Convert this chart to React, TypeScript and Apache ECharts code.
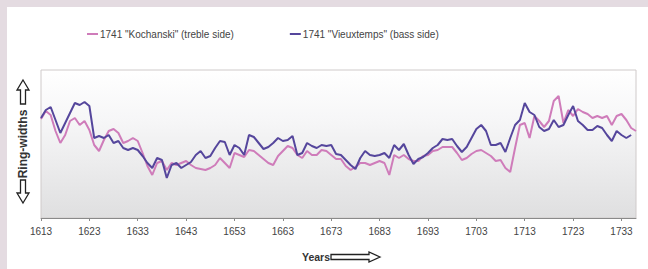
import React, { useEffect, useRef } from "react";
import * as echarts from "echarts";

const firstYear = 1613;
const lastYear = 1736;
const years: string[] = [];
for (let y = firstYear; y <= lastYear; y++) years.push(String(y));

const seriesNames = ['1741 "Kochanski" (treble side)', '1741 "Vieuxtemps" (bass side)'];

// Kochanski (treble side), relative ring-width index, 1613..1736
const kochanski: (number | null)[] = [
  99, 107, 103, 87, 75, 83, 97, 100, 93, 97, 88, 73, 67, 78, 87, 89, 85, 75, 77, 80,
  77, 65, 52, 43, 55, 57, 48, 55, 53, 55, 57, 53, 50, 49, 48, 50, 53, 60, 55, 50,
  65, 63, 61, 68, 67, 63, 59, 55, 53, 62, 67, 72, 70, 63, 60, 67, 63, 63, 68, 67,
  63, 59, 59, 52, 48, 51, 55, 55, 53, 55, 57, 55, 43, 63, 60, 63, 59, 57, 57, 62,
  63, 67, 68, 71, 71, 71, 65, 58, 60, 64, 67, 68, 65, 62, 57, 58, 50, 46, 70, 93,
  95, 80, 102, 97, 91, 97, 117, 122, 95, 108, 102, 109, 106, 104, 100, 102, 100, 102, 93, 102,
  104, 98, 90, 87,
];

// Vieuxtemps (bass side), relative ring-width index, 1613..1735
const vieuxtemps: (number | null)[] = [
  100, 108, 111, 98, 85, 95, 105, 115, 113, 116, 112, 80, 82, 80, 83, 75, 77, 70, 68, 70,
  68, 62, 55, 50, 60, 58, 40, 53, 55, 50, 53, 56, 63, 67, 60, 62, 70, 77, 76, 63,
  73, 70, 63, 83, 81, 75, 69, 71, 75, 80, 77, 78, 82, 63, 65, 75, 72, 70, 73, 72,
  73, 64, 63, 58, 53, 49, 60, 67, 63, 62, 63, 65, 60, 73, 68, 74, 63, 54, 59, 61,
  65, 70, 73, 79, 78, 79, 72, 66, 71, 80, 89, 93, 87, 73, 73, 75, 66, 80, 93, 98,
  115, 106, 103, 91, 87, 89, 98, 91, 93, 103, 112, 97, 93, 88, 88, 92, 90, 83, 77, 87,
  83, 80, 83, null,
];

const pink = "#cf7cba";
const blue = "#55469c";

export default function App() {
  const ref = useRef<HTMLDivElement>(null);
  useEffect(() => {
    if (!ref.current) return;
    const chart = echarts.init(ref.current, null, { renderer: "svg" });
    const upArrow = [
      [23, 80], [29, 90], [25.5, 90], [25.5, 104], [20.5, 104], [20.5, 90], [17, 90],
    ];
    const downArrow = [
      [23, 203], [29, 193], [25.5, 193], [25.5, 180], [20.5, 180], [20.5, 193], [17, 193],
    ];
    const rightArrow = [
      [380, 257], [369, 252], [369, 254.5], [331, 254.5], [331, 259.5], [369, 259.5], [369, 262],
    ];
    chart.setOption({
      animation: false,
      backgroundColor: "transparent",
      textStyle: { fontFamily: "Liberation Sans, Arial, sans-serif" },
      legend: {
        left: 82,
        top: 24,
        icon: "rect",
        itemWidth: 11,
        itemHeight: 2,
        itemGap: 56,
        textStyle: { fontSize: 10, color: "#444", padding: [0, 0, 0, -3] },
        data: seriesNames,
      },
      grid: {
        left: 41,
        top: 70,
        right: 12,
        bottom: 51,
        show: true,
        borderColor: "#cfcaca",
        borderWidth: 1,
        backgroundColor: new echarts.graphic.LinearGradient(0, 0, 0, 1, [
          { offset: 0, color: "#ffffff" },
          { offset: 0.35, color: "#f6f6f7" },
          { offset: 1, color: "#dfdfe0" },
        ]),
      },
      xAxis: {
        type: "category",
        data: years,
        boundaryGap: false,
        axisLine: { lineStyle: { color: "#8a8a8a", width: 1 } },
        axisTick: { interval: 9, length: 3, lineStyle: { color: "#8a8a8a" } },
        axisLabel: { interval: 9, fontSize: 10, color: "#444", margin: 8 },
        splitLine: { show: false },
      },
      yAxis: {
        type: "value",
        min: 0,
        max: 148,
        show: false,
        splitLine: { show: false },
      },
      series: [
        {
          name: seriesNames[0],
          type: "line",
          data: kochanski,
          symbol: "none",
          lineStyle: { color: pink, width: 2 },
          itemStyle: { color: pink },
        },
        {
          name: seriesNames[1],
          type: "line",
          data: vieuxtemps,
          symbol: "none",
          lineStyle: { color: blue, width: 2 },
          itemStyle: { color: blue },
        },
      ],
      graphic: [
        {
          type: "polygon",
          shape: { points: upArrow },
          style: { fill: "#ffffff", stroke: "#222", lineWidth: 1.3 },
        },
        {
          type: "polygon",
          shape: { points: downArrow },
          style: { fill: "#ffffff", stroke: "#222", lineWidth: 1.3 },
        },
        {
          type: "text",
          x: 23,
          y: 144,
          rotation: Math.PI / 2,
          style: {
            text: "Ring-widths",
            fontSize: 12,
            fontWeight: "bold",
            fill: "#333",
            align: "center",
            verticalAlign: "middle",
            fontFamily: "Liberation Sans, Arial, sans-serif",
          },
        },
        {
          type: "text",
          x: 330,
          y: 257,
          style: {
            text: "Years",
            fontSize: 10.5,
            fontWeight: "bold",
            fill: "#333",
            align: "right",
            verticalAlign: "middle",
            fontFamily: "Liberation Sans, Arial, sans-serif",
          },
        },
        {
          type: "polygon",
          shape: { points: rightArrow },
          style: { fill: "#ffffff", stroke: "#222", lineWidth: 1.3 },
        },
      ],
    });
    return () => chart.dispose();
  }, []);

  return (
    <div style={{ position: "fixed", left: 0, top: 0, width: 648, height: 269, background: "#e4dbe1" }}>
      <div style={{ position: "absolute", left: 7, top: 7, width: 641, height: 262, background: "#ffffff" }} />
      <div ref={ref} style={{ position: "absolute", left: 0, top: 0, width: 648, height: 269 }} />
    </div>
  );
}
